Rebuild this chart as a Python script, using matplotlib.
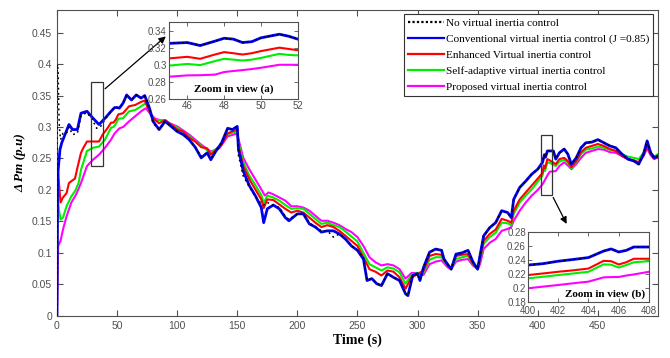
import numpy as np
import matplotlib
matplotlib.use("Agg")
import matplotlib.pyplot as plt
from matplotlib.patches import Rectangle
from matplotlib.lines import Line2D

# ---- data ----
t_conv = [0, 0.5, 1, 2.5, 4, 6.7, 10, 13, 17, 20, 25, 30, 35, 40, 45, 48, 50, 52, 55, 58, 62, 66, 70, 73,
          77, 80, 85, 90, 95, 100, 105, 110, 115, 120, 125, 128, 132, 137, 142, 146, 150, 151, 155, 160,
          165, 170, 172, 175, 180, 185, 190, 193, 200, 205, 210, 215, 220, 225, 230, 235, 240, 245, 250,
          255, 258, 262, 266, 270, 275, 280, 285, 290, 292, 296, 300, 302, 305, 310, 315, 320, 322, 325,
          328, 332, 337, 342, 346, 350, 352, 355, 360, 365, 370, 375, 378, 380, 385, 390, 395, 400, 404,
          405.5, 406.5, 408, 410, 413, 415, 418, 422, 425, 428, 432, 436, 440, 445, 450, 455, 460, 465,
          470, 475, 480, 484, 488, 491, 494, 497, 500]
p_conv = [0, 0.20, 0.232, 0.264, 0.275, 0.288, 0.304, 0.296, 0.296, 0.322, 0.325, 0.314, 0.304, 0.314,
          0.325, 0.331, 0.331, 0.330, 0.338, 0.351, 0.343, 0.351, 0.346, 0.350, 0.330, 0.309, 0.296,
          0.309, 0.301, 0.293, 0.288, 0.280, 0.268, 0.251, 0.259, 0.248, 0.261, 0.275, 0.298, 0.296,
          0.301, 0.265, 0.230, 0.207, 0.191, 0.172, 0.148, 0.170, 0.176, 0.170, 0.156, 0.151, 0.162,
          0.162, 0.146, 0.141, 0.133, 0.135, 0.135, 0.130, 0.122, 0.111, 0.104, 0.090, 0.056, 0.059,
          0.051, 0.048, 0.067, 0.061, 0.056, 0.035, 0.032, 0.064, 0.067, 0.056, 0.077, 0.101, 0.106,
          0.104, 0.090, 0.082, 0.074, 0.098, 0.100, 0.104, 0.086, 0.074, 0.096, 0.127, 0.140, 0.148,
          0.167, 0.164, 0.156, 0.185, 0.204, 0.214, 0.225, 0.233, 0.244, 0.256, 0.252, 0.262, 0.262,
          0.262, 0.249, 0.259, 0.265, 0.257, 0.241, 0.251, 0.267, 0.275, 0.276, 0.280, 0.275, 0.270,
          0.267, 0.257, 0.249, 0.246, 0.241, 0.257, 0.278, 0.259, 0.251, 0.254]

t_none_head = [0, 0.3, 1, 1.5, 2, 3, 5, 8, 10, 13, 17, 20, 25, 30, 33, 36, 40, 45, 48, 50, 52, 55, 58, 62,
               66, 70, 73, 77, 80, 85, 90, 95, 100, 105, 110, 115, 120, 125, 128, 132, 137, 142, 146, 150,
               151, 155, 160, 165, 170, 172, 175, 180, 185, 190, 193, 200, 205, 210, 215, 220, 225, 230,
               235, 240, 245, 250, 255]
p_none_head = [0, 0.40, 0.39, 0.33, 0.30, 0.28, 0.29, 0.29, 0.30, 0.288, 0.290, 0.318, 0.323, 0.31, 0.298,
               0.30, 0.312, 0.325, 0.331, 0.331, 0.330, 0.338, 0.351, 0.343, 0.351, 0.346, 0.350, 0.330,
               0.306, 0.296, 0.309, 0.301, 0.293, 0.288, 0.280, 0.268, 0.253, 0.259, 0.250, 0.261, 0.275,
               0.298, 0.296, 0.301, 0.255, 0.222, 0.205, 0.190, 0.178, 0.176, 0.180, 0.176, 0.172, 0.158,
               0.153, 0.162, 0.162, 0.148, 0.141, 0.135, 0.135, 0.125, 0.130, 0.122, 0.111, 0.104, 0.092]
k = t_conv.index(258)
t_none = t_none_head + t_conv[k:]
p_none = p_none_head + p_conv[k:]

t_enh = [0, 0.5, 1.5, 3, 5, 8, 10, 12, 15, 17, 20, 22, 25, 30, 35, 38, 42, 45, 47, 49, 51, 55, 60, 65, 70,
         73, 77, 80, 85, 90, 95, 100, 105, 110, 115, 120, 125, 128, 132, 137, 142, 146, 150, 151, 155, 160,
         165, 170, 172, 175, 180, 185, 190, 195, 200, 205, 210, 215, 220, 225, 230, 235, 240, 245, 250, 255,
         260, 265, 270, 275, 280, 285, 290, 295, 300, 305, 310, 315, 320, 325, 328, 332, 337, 342, 346, 350,
         352, 355, 360, 365, 370, 375, 378, 380, 385, 390, 395, 400, 404, 405, 406, 408, 410, 415, 418, 422,
         425, 428, 432, 436, 440, 445, 450, 455, 460, 465, 470, 475, 480, 484, 488, 491, 494, 497, 500]
p_enh = [0, 0.232, 0.215, 0.180, 0.188, 0.195, 0.211, 0.214, 0.218, 0.235, 0.259, 0.267, 0.277, 0.277,
         0.277, 0.288, 0.298, 0.307, 0.307, 0.312, 0.320, 0.322, 0.333, 0.335, 0.340, 0.342, 0.325, 0.314,
         0.306, 0.311, 0.304, 0.296, 0.293, 0.283, 0.277, 0.268, 0.266, 0.256, 0.263, 0.272, 0.290, 0.293,
         0.296, 0.270, 0.238, 0.217, 0.201, 0.185, 0.171, 0.185, 0.184, 0.177, 0.170, 0.164, 0.167, 0.164,
         0.156, 0.148, 0.141, 0.144, 0.141, 0.135, 0.127, 0.119, 0.111, 0.093, 0.074, 0.070, 0.064, 0.072,
         0.070, 0.061, 0.043, 0.061, 0.066, 0.072, 0.095, 0.098, 0.097, 0.080, 0.076, 0.095, 0.097, 0.098,
         0.083, 0.076, 0.090, 0.119, 0.130, 0.137, 0.154, 0.151, 0.148, 0.167, 0.185, 0.196, 0.207, 0.218,
         0.227, 0.239, 0.234, 0.249, 0.247, 0.241, 0.249, 0.251, 0.246, 0.236, 0.246, 0.260, 0.267, 0.270,
         0.273, 0.270, 0.265, 0.262, 0.254, 0.249, 0.247, 0.244, 0.255, 0.270, 0.257, 0.250, 0.254]

t_self = [0, 0.5, 1.5, 3, 5, 8, 12, 15, 18, 20, 25, 30, 35, 40, 45, 47, 49, 51, 55, 60, 65, 70, 74, 78, 82,
          90, 95, 100, 110, 120, 128, 135, 142, 150, 151, 155, 160, 165, 170, 172, 175, 180, 185, 190, 195,
          200, 205, 210, 215, 220, 225, 230, 235, 240, 245, 250, 255, 260, 265, 270, 275, 280, 285, 290, 295,
          300, 305, 310, 315, 320, 325, 328, 332, 337, 342, 346, 350, 352, 355, 360, 365, 370, 375, 378, 380,
          385, 390, 395, 400, 404, 405, 406, 408, 410, 415, 418, 422, 425, 428, 432, 436, 440, 445, 450, 455,
          460, 465, 470, 475, 480, 484, 488, 491, 494, 497, 500]
p_self = [0, 0.20, 0.17, 0.153, 0.156, 0.174, 0.190, 0.198, 0.211, 0.232, 0.262, 0.267, 0.269, 0.280, 0.299,
          0.300, 0.305, 0.313, 0.314, 0.325, 0.327, 0.333, 0.338, 0.320, 0.311, 0.311, 0.304, 0.299, 0.285,
          0.270, 0.259, 0.269, 0.288, 0.294, 0.275, 0.244, 0.223, 0.208, 0.192, 0.179, 0.191, 0.188, 0.183,
          0.176, 0.170, 0.171, 0.170, 0.162, 0.154, 0.146, 0.148, 0.144, 0.141, 0.134, 0.126, 0.118, 0.100,
          0.082, 0.077, 0.072, 0.077, 0.075, 0.069, 0.051, 0.065, 0.068, 0.069, 0.089, 0.093, 0.093, 0.079,
          0.076, 0.090, 0.093, 0.095, 0.082, 0.076, 0.088, 0.114, 0.125, 0.132, 0.148, 0.147, 0.144, 0.162,
          0.180, 0.191, 0.201, 0.213, 0.223, 0.234, 0.230, 0.244, 0.243, 0.238, 0.245, 0.248, 0.244, 0.234,
          0.244, 0.257, 0.264, 0.266, 0.269, 0.267, 0.264, 0.262, 0.257, 0.253, 0.251, 0.249, 0.259, 0.271,
          0.259, 0.253, 0.257]

t_prop = [0, 1, 3, 5, 8, 12, 16, 20, 25, 30, 35, 40, 45, 48, 52, 55, 60, 65, 70, 74, 78, 82, 90, 100, 110,
          120, 128, 135, 142, 150, 151, 155, 160, 165, 170, 173, 176, 180, 185, 190, 195, 200, 205, 210, 215,
          220, 225, 230, 235, 240, 245, 250, 255, 260, 265, 270, 275, 280, 285, 290, 295, 300, 305, 310, 315,
          320, 325, 328, 332, 337, 342, 346, 350, 352, 355, 360, 365, 370, 375, 378, 380, 385, 390, 395, 400,
          404, 406, 408, 410, 415, 418, 422, 425, 428, 432, 436, 440, 445, 450, 455, 460, 465, 470, 475, 480,
          484, 488, 491, 494, 497, 500]
p_prop = [0, 0.111, 0.119, 0.137, 0.158, 0.180, 0.193, 0.211, 0.238, 0.248, 0.256, 0.267, 0.280, 0.290,
          0.298, 0.300, 0.309, 0.317, 0.325, 0.330, 0.320, 0.313, 0.309, 0.301, 0.288, 0.272, 0.261, 0.266,
          0.285, 0.290, 0.281, 0.251, 0.233, 0.217, 0.201, 0.191, 0.196, 0.193, 0.188, 0.183, 0.174, 0.174,
          0.172, 0.167, 0.159, 0.151, 0.151, 0.148, 0.144, 0.138, 0.133, 0.125, 0.111, 0.093, 0.085, 0.080,
          0.082, 0.080, 0.074, 0.059, 0.068, 0.068, 0.065, 0.082, 0.086, 0.088, 0.077, 0.074, 0.086, 0.089,
          0.090, 0.080, 0.074, 0.082, 0.106, 0.116, 0.122, 0.135, 0.138, 0.141, 0.151, 0.167, 0.180, 0.191,
          0.200, 0.209, 0.216, 0.223, 0.229, 0.230, 0.238, 0.244, 0.239, 0.233, 0.241, 0.251, 0.259, 0.262,
          0.265, 0.264, 0.260, 0.259, 0.254, 0.249, 0.246, 0.244, 0.254, 0.266, 0.255, 0.249, 0.253]

# zoom (a): 45-52 s
za_t = [45, 46, 46.7, 47.5, 48, 48.5, 49, 49.5, 50, 51, 51.5, 52]
za_conv = [0.325, 0.326, 0.3225, 0.3276, 0.331, 0.330, 0.326, 0.327, 0.3315, 0.3357, 0.3334, 0.330]
za_enh = [0.3074, 0.3093, 0.307, 0.312, 0.3148, 0.3135, 0.312, 0.3135, 0.316, 0.320, 0.3185, 0.317]
za_self = [0.299, 0.301, 0.2996, 0.3043, 0.307, 0.306, 0.305, 0.306, 0.308, 0.3128, 0.3115, 0.311]
za_prop = [0.286, 0.2876, 0.2878, 0.2885, 0.2915, 0.2927, 0.2938, 0.295, 0.2965, 0.300, 0.3, 0.300]

# zoom (b): 400-408 s
zb_t = [400, 401, 402, 403, 404, 405, 405.5, 406, 406.5, 407, 408]
zb_conv = [0.233, 0.235, 0.2385, 0.241, 0.2437, 0.253, 0.256, 0.2517, 0.254, 0.2588, 0.2588]
zb_enh = [0.2187, 0.221, 0.2234, 0.2255, 0.228, 0.239, 0.2385, 0.2338, 0.237, 0.242, 0.242]
zb_self = [0.214, 0.2163, 0.2187, 0.221, 0.2234, 0.234, 0.2335, 0.2295, 0.233, 0.237, 0.2385]
zb_prop = [0.1998, 0.2022, 0.2045, 0.207, 0.2093, 0.2154, 0.2158, 0.216, 0.218, 0.2196, 0.2234]

labels = ['No virtual inertia control',
          'Conventional virtual inertia control (J =0.85)',
          'Enhanced Virtual inertia control',
          'Self-adaptive virtual inertia control',
          'Proposed virtual inertia control']

C_NONE, C_CONV, C_ENH, C_SELF, C_PROP = 'black', '#0000f0', '#ff0000', '#00ee00', '#ff00ff'
serif = 'Liberation Serif'
sans = 'Liberation Sans'
gray = '#505050'

fig = plt.figure(figsize=(6.7, 3.58), dpi=100, facecolor='white')
ax = fig.add_axes([0.085, 0.118, 0.897, 0.854])

ax.plot(t_prop, p_prop, color=C_PROP, lw=1.5, zorder=2)
ax.plot(t_self, p_self, color=C_SELF, lw=1.5, zorder=3)
ax.plot(t_enh, p_enh, color=C_ENH, lw=1.5, zorder=4)
ax.plot(t_conv, p_conv, color=C_CONV, lw=2.0, zorder=5)
ax.plot(t_none, p_none, color=C_NONE, lw=1.1, ls=(0, (1.2, 2.2)), zorder=6)

ax.set_xlim(0, 500)
ax.set_ylim(0, 0.486)
ax.set_xticks(np.arange(0, 451, 50))
ax.set_yticks(np.arange(0, 0.451, 0.05))
ax.set_yticklabels(['0', '0.05', '0.1', '0.15', '0.2', '0.25', '0.3', '0.35', '0.4', '0.45'])
ax.tick_params(direction='in', top=True, right=True, length=4, width=0.8, colors=gray)
for lab in ax.get_xticklabels() + ax.get_yticklabels():
    lab.set_fontfamily(sans)
    lab.set_fontsize(7.5)
for s in ax.spines.values():
    s.set_color(gray)
    s.set_linewidth(0.8)

ax.set_xlabel('Time (s)', family=serif, fontweight='bold', fontsize=10, labelpad=2)
ax.set_ylabel('Δ Pm (p.u)', family=serif, fontweight='bold', fontstyle='italic', fontsize=9.5, labelpad=4)

# legend
handles = [Line2D([], [], color=C_NONE, lw=1.6, ls=(0, (1, 1))),
           Line2D([], [], color=C_CONV, lw=1.6),
           Line2D([], [], color=C_ENH, lw=1.6),
           Line2D([], [], color=C_SELF, lw=1.6),
           Line2D([], [], color=C_PROP, lw=1.6)]
leg = ax.legend(handles, labels, loc='upper right', bbox_to_anchor=(0.992, 0.988),
                prop={'family': serif, 'size': 8.1}, frameon=True, fancybox=False,
                framealpha=1, edgecolor='#333333', borderpad=0.35, labelspacing=0.55,
                handlelength=3.2, handletextpad=0.2, borderaxespad=0.0)
leg.get_frame().set_linewidth(0.8)
leg.set_zorder(10)

# zoom rectangles and arrows
ax.add_patch(Rectangle((28.3, 0.238), 10, 0.134, fill=False, ec='#333333', lw=0.9, zorder=7))
ax.add_patch(Rectangle((402.7, 0.192), 9.1, 0.096, fill=False, ec='#333333', lw=0.9, zorder=7))
ax.annotate('', xy=(92.3, 0.447), xytext=(38.3, 0.358),
            arrowprops=dict(arrowstyle='-|>', color='black', lw=0.9, mutation_scale=10), zorder=8)
ax.annotate('', xy=(425.1, 0.142), xytext=(411.8, 0.192),
            arrowprops=dict(arrowstyle='-|>', color='black', lw=0.9, mutation_scale=10), zorder=8)


def style_inset(a):
    a.tick_params(direction='in', top=True, right=True, length=3, width=0.6, colors=gray, pad=1.5)
    for lab in a.get_xticklabels() + a.get_yticklabels():
        lab.set_fontfamily(sans)
        lab.set_fontsize(7)
    for s in a.spines.values():
        s.set_color(gray)
        s.set_linewidth(0.8)


# inset (a)
ia = fig.add_axes([0.252, 0.7235, 0.1925, 0.215])
ia.plot(za_t, za_prop, color=C_PROP, lw=1.5)
ia.plot(za_t, za_self, color=C_SELF, lw=1.5)
ia.plot(za_t, za_enh, color=C_ENH, lw=1.5)
ia.plot(za_t, za_conv, color=C_CONV, lw=2.0)
ia.plot(za_t, za_conv, color=C_NONE, lw=1.0, ls=(0, (1.2, 2.0)))
ia.set_xlim(45, 52)
ia.set_ylim(0.26, 0.35)
ia.set_xticks([46, 48, 50, 52])
ia.set_yticks([0.26, 0.28, 0.3, 0.32, 0.34])
ia.set_yticklabels(['0.26', '0.28', '0.3', '0.32', '0.34'])
style_inset(ia)
ia.text(0.5, 0.06, 'Zoom in view (a)', transform=ia.transAxes, ha='center', va='bottom',
        family=serif, fontweight='bold', fontsize=8)

# inset (b)
ib = fig.add_axes([0.788, 0.156, 0.1806, 0.1955])
ib.plot(zb_t, zb_prop, color=C_PROP, lw=1.5)
ib.plot(zb_t, zb_self, color=C_SELF, lw=1.5)
ib.plot(zb_t, zb_enh, color=C_ENH, lw=1.5)
ib.plot(zb_t, zb_conv, color=C_CONV, lw=2.0)
ib.plot(zb_t, zb_conv, color=C_NONE, lw=1.0, ls=(0, (1.2, 2.5)))
ib.set_xlim(400, 408)
ib.set_ylim(0.18, 0.28)
ib.set_xticks([400, 402, 404, 406, 408])
ib.set_yticks([0.18, 0.2, 0.22, 0.24, 0.26, 0.28])
ib.set_yticklabels(['0.18', '0.2', '0.22', '0.24', '0.26', '0.28'])
style_inset(ib)
ib.tick_params(axis='x', pad=3)
ib.text(0.97, 0.04, 'Zoom in view (b)', transform=ib.transAxes, ha='right', va='bottom',
        family=serif, fontweight='bold', fontsize=8)

fig.savefig('out.png', dpi=100)
